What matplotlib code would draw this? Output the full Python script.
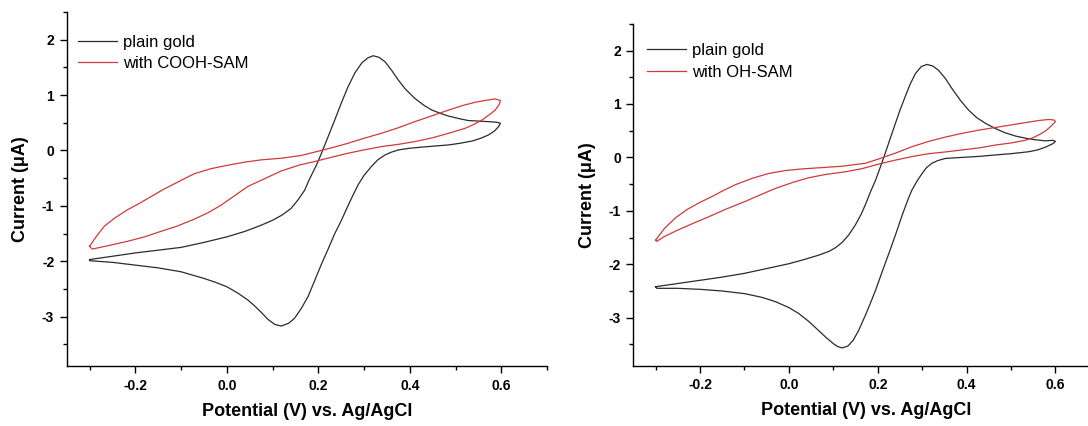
import matplotlib
matplotlib.use('Agg')
import matplotlib.pyplot as plt
from matplotlib.ticker import MultipleLocator

plt.rcParams['font.family'] = ['Liberation Sans', 'DejaVu Sans']

# ---- left panel: plain gold vs COOH-SAM ----
cooh_gold_fwd_x = [-0.30, -0.25, -0.20, -0.15, -0.10, -0.05, 0.00, 0.04, 0.075, 0.10, 0.12, 0.14,
                   0.155, 0.17, 0.18, 0.195, 0.207, 0.22, 0.236, 0.25, 0.265, 0.28, 0.295, 0.308,
                   0.32, 0.333, 0.346, 0.36, 0.375, 0.39, 0.411, 0.43, 0.448, 0.47, 0.485, 0.51,
                   0.528, 0.55, 0.572, 0.59, 0.598]
cooh_gold_fwd_y = [-1.97, -1.91, -1.85, -1.80, -1.75, -1.66, -1.56, -1.46, -1.35, -1.26, -1.17, -1.05,
                   -0.90, -0.72, -0.53, -0.28, -0.05, 0.22, 0.55, 0.85, 1.15, 1.40, 1.58, 1.67,
                   1.71, 1.68, 1.60, 1.45, 1.27, 1.11, 0.94, 0.82, 0.73, 0.66, 0.62, 0.57,
                   0.54, 0.53, 0.52, 0.51, 0.49]
cooh_gold_rev_x = [0.598, 0.594, 0.585, 0.572, 0.555, 0.536, 0.51, 0.485, 0.455, 0.426, 0.40, 0.375,
                   0.36, 0.346, 0.33, 0.316, 0.30, 0.287, 0.275, 0.262, 0.25, 0.236, 0.222, 0.207,
                   0.192, 0.178, 0.163, 0.148, 0.135, 0.119, 0.105, 0.09, 0.075, 0.06, 0.046, 0.025,
                   0.0, -0.025, -0.05, -0.10, -0.15, -0.20, -0.25, -0.30]
cooh_gold_rev_y = [0.49, 0.43, 0.35, 0.28, 0.22, 0.17, 0.13, 0.10, 0.08, 0.06, 0.04, 0.01,
                   -0.03, -0.08, -0.17, -0.29, -0.45, -0.62, -0.82, -1.05, -1.27, -1.50, -1.77, -2.05,
                   -2.35, -2.63, -2.85, -3.03, -3.12, -3.17, -3.14, -3.05, -2.92, -2.80, -2.70, -2.58,
                   -2.46, -2.38, -2.31, -2.19, -2.12, -2.07, -2.02, -1.99]

cooh_sam_fwd_x = [-0.30, -0.285, -0.268, -0.245, -0.217, -0.19, -0.165, -0.14, -0.10, -0.071, -0.035, 0.0,
                  0.04, 0.075, 0.119, 0.163, 0.192, 0.23, 0.265, 0.30, 0.338, 0.375, 0.411, 0.45,
                  0.485, 0.515, 0.543, 0.57, 0.587, 0.598]
cooh_sam_fwd_y = [-1.73, -1.55, -1.37, -1.22, -1.07, -0.95, -0.83, -0.71, -0.54, -0.42, -0.33, -0.27,
                  -0.21, -0.17, -0.14, -0.09, -0.03, 0.05, 0.13, 0.22, 0.31, 0.41, 0.52, 0.63,
                  0.73, 0.81, 0.87, 0.91, 0.93, 0.90]
cooh_sam_rev_x = [0.598, 0.596, 0.587, 0.573, 0.558, 0.54, 0.521, 0.485, 0.45, 0.411, 0.375, 0.338,
                  0.30, 0.265, 0.23, 0.192, 0.16, 0.119, 0.08, 0.046, 0.02, -0.013, -0.04, -0.071,
                  -0.11, -0.144, -0.18, -0.217, -0.26, -0.294, -0.30]
cooh_sam_rev_y = [0.90, 0.84, 0.73, 0.64, 0.55, 0.47, 0.40, 0.31, 0.23, 0.16, 0.11, 0.07,
                  0.01, -0.05, -0.12, -0.20, -0.26, -0.37, -0.52, -0.65, -0.80, -0.99, -1.12, -1.24,
                  -1.37, -1.46, -1.56, -1.64, -1.72, -1.78, -1.73]

# ---- right panel: plain gold vs OH-SAM ----
oh_gold_fwd_x = [-0.30, -0.25, -0.20, -0.15, -0.10, -0.05, 0.0, 0.035, 0.067, 0.09, 0.105, 0.12,
                 0.135, 0.15, 0.163, 0.172, 0.184, 0.195, 0.206, 0.217, 0.228, 0.24, 0.25, 0.262,
                 0.273, 0.285, 0.298, 0.311, 0.324, 0.337, 0.352, 0.367, 0.385, 0.404, 0.422, 0.442,
                 0.465, 0.487, 0.51, 0.532, 0.555, 0.577, 0.595, 0.60]
oh_gold_fwd_y = [-2.42, -2.36, -2.30, -2.24, -2.17, -2.08, -1.99, -1.91, -1.83, -1.76, -1.69, -1.59,
                 -1.45, -1.26, -1.06, -0.89, -0.64, -0.43, -0.18, 0.08, 0.35, 0.64, 0.88, 1.14,
                 1.37, 1.57, 1.70, 1.74, 1.71, 1.63, 1.48, 1.29, 1.08, 0.89, 0.75, 0.64,
                 0.54, 0.46, 0.40, 0.36, 0.33, 0.31, 0.32, 0.30]
oh_gold_rev_x = [0.60, 0.595, 0.577, 0.56, 0.539, 0.50, 0.464, 0.43, 0.39, 0.352, 0.335, 0.322,
                 0.31, 0.30, 0.288, 0.277, 0.268, 0.256, 0.24, 0.225, 0.21, 0.195, 0.183, 0.172,
                 0.157, 0.145, 0.133, 0.12, 0.11, 0.101, 0.085, 0.067, 0.045, 0.022, 0.0, -0.03,
                 -0.06, -0.099, -0.15, -0.198, -0.25, -0.297, -0.30]
oh_gold_rev_y = [0.30, 0.26, 0.19, 0.14, 0.105, 0.07, 0.045, 0.02, 0.0, -0.02, -0.06, -0.11,
                 -0.19, -0.30, -0.45, -0.61, -0.79, -1.06, -1.45, -1.80, -2.14, -2.49, -2.74, -2.96,
                 -3.24, -3.42, -3.53, -3.565, -3.54, -3.49, -3.38, -3.24, -3.07, -2.92, -2.81, -2.70,
                 -2.62, -2.55, -2.50, -2.47, -2.45, -2.45, -2.42]

oh_sam_fwd_x = [-0.30, -0.28, -0.255, -0.23, -0.202, -0.17, -0.15, -0.12, -0.082, -0.045, -0.007, 0.03,
                0.067, 0.12, 0.172, 0.202, 0.24, 0.277, 0.315, 0.352, 0.39, 0.427, 0.465, 0.502,
                0.532, 0.562, 0.585, 0.597, 0.60]
oh_sam_fwd_y = [-1.55, -1.33, -1.13, -0.98, -0.85, -0.72, -0.63, -0.51, -0.39, -0.30, -0.245, -0.215,
                -0.195, -0.165, -0.11, -0.03, 0.08, 0.20, 0.30, 0.38, 0.45, 0.51, 0.56, 0.61,
                0.65, 0.69, 0.71, 0.70, 0.67]
oh_sam_rev_x = [0.60, 0.592, 0.58, 0.569, 0.55, 0.532, 0.50, 0.464, 0.43, 0.39, 0.35, 0.315,
                0.28, 0.24, 0.20, 0.165, 0.127, 0.082, 0.045, 0.008, -0.03, -0.067, -0.10, -0.142,
                -0.18, -0.217, -0.25, -0.28, -0.297, -0.30]
oh_sam_rev_y = [0.67, 0.60, 0.51, 0.45, 0.37, 0.32, 0.27, 0.23, 0.18, 0.14, 0.10, 0.07,
                0.02, -0.05, -0.13, -0.21, -0.27, -0.32, -0.38, -0.47, -0.58, -0.71, -0.83, -0.97,
                -1.11, -1.24, -1.36, -1.48, -1.57, -1.55]

black = '#2b2b2b'
red = '#cf3a3a'


def style_axes(ax):
    ax.set_xlim(-0.35, 0.7)
    ax.set_ylim(-3.9, 2.5)
    ax.spines['top'].set_visible(False)
    ax.spines['right'].set_visible(False)
    for s in ('left', 'bottom'):
        ax.spines[s].set_linewidth(1.0)
    ax.xaxis.set_major_locator(MultipleLocator(0.2))
    ax.xaxis.set_minor_locator(MultipleLocator(0.1))
    ax.yaxis.set_major_locator(MultipleLocator(1))
    ax.yaxis.set_minor_locator(MultipleLocator(0.5))
    ax.tick_params(which='major', direction='out', length=5, width=1.0, labelsize=10, pad=4)
    ax.tick_params(which='minor', direction='out', length=3, width=1.0)
    ax.set_xticks([-0.2, 0.0, 0.2, 0.4, 0.6])
    ax.set_xticklabels(['-0.2', '0.0', '0.2', '0.4', '0.6'], fontweight='bold')
    ax.set_yticks([-3, -2, -1, 0, 1, 2])
    ax.set_yticklabels(['-3', '-2', '-1', '0', '1', '2'], fontweight='bold')
    ax.set_xlabel('Potential (V) vs. Ag/AgCl', fontsize=13, fontweight='bold', labelpad=7)
    ax.set_ylabel('Current (\u03bcA)', fontsize=13, fontweight='bold', labelpad=9)


def draw_panel(ax, gold, sam, sam_label, legend_anchor):
    gx = gold[0] + gold[2]
    gy = gold[1] + gold[3]
    sx = sam[0] + sam[2]
    sy = sam[1] + sam[3]
    ax.plot(gx, gy, color=black, lw=0.9, label='plain gold')
    ax.plot(sx, sy, color=red, lw=0.9, label=sam_label)
    style_axes(ax)
    ax.legend(loc='upper left', bbox_to_anchor=legend_anchor, frameon=False, fontsize=12,
              handlelength=2.35, handletextpad=0.36, labelspacing=0.4, borderpad=0, borderaxespad=0)


def main():
    fig = plt.figure(figsize=(10.88, 4.26), dpi=100)
    ax1 = fig.add_axes([0.0613, 0.1397, 0.4415, 0.8322])
    ax2 = fig.add_axes([0.5821, 0.1413, 0.4288, 0.8028])

    draw_panel(ax1, (cooh_gold_fwd_x, cooh_gold_fwd_y, cooh_gold_rev_x, cooh_gold_rev_y),
               (cooh_sam_fwd_x, cooh_sam_fwd_y, cooh_sam_rev_x, cooh_sam_rev_y),
               'with COOH-SAM', (0.0235, 0.936))
    draw_panel(ax2, (oh_gold_fwd_x, oh_gold_fwd_y, oh_gold_rev_x, oh_gold_rev_y),
               (oh_sam_fwd_x, oh_sam_fwd_y, oh_sam_rev_x, oh_sam_rev_y),
               'with OH-SAM', (0.029, 0.943))

    fig.savefig('out.png', dpi=100)


if __name__ == "__main__":
    main()
